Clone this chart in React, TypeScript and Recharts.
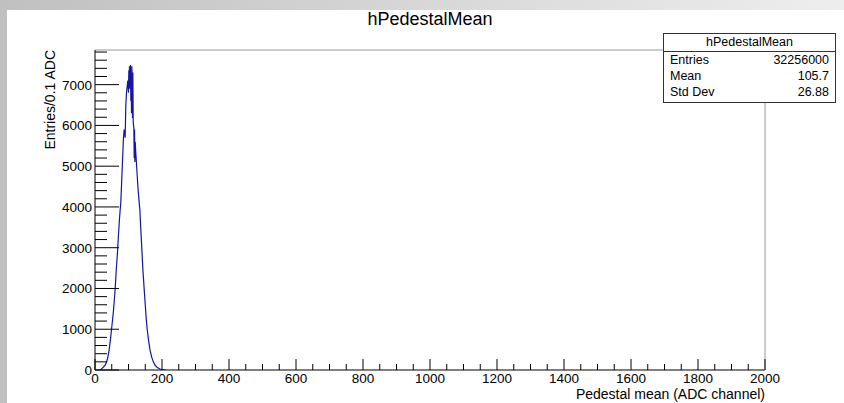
import React from "react";
import { LineChart, Line, XAxis, YAxis } from "recharts";

const adc = [
  14, 18, 22, 26, 30, 34, 38, 42, 46, 50, 54, 57, 60, 63, 67, 70, 73, 75, 77, 80,
  83, 85, 87, 89, 90, 92, 94, 96, 98, 100, 101, 102, 103, 104, 105, 106, 107, 108, 109, 110,
  111, 112, 113, 114, 115, 116, 117, 118, 119, 120, 122, 125, 128, 130, 132, 134, 137, 140, 143, 147,
  150, 153, 156, 160, 164, 169, 174, 180, 186, 194, 200, 206, 212,
];
const counts = [
  0, 20, 45, 80, 120, 180, 300, 480, 740, 1050, 1350, 1650, 1960, 2400, 2870, 3300, 3700, 3920, 4100, 4700,
  5300, 5690, 5900, 5800, 5700, 6500, 6800, 6950, 7100, 6800, 7350, 7100, 7450, 6900, 7200, 7480, 6600, 7000, 6300, 7450,
  6900, 6180, 7300, 6100, 6000, 5950, 5200, 5900, 5100, 5600, 5300, 4900, 4500, 4290, 4100, 3920, 3400, 2940, 2450, 1960,
  1600, 1250, 980, 720, 500, 320, 200, 110, 60, 25, 12, 5, 0,
];

const xTicks = [
  0, 50, 100, 150, 200, 250, 300, 350, 400, 450, 500, 550, 600, 650, 700, 750, 800, 850, 900, 950,
  1000, 1050, 1100, 1150, 1200, 1250, 1300, 1350, 1400, 1450, 1500, 1550, 1600, 1650, 1700, 1750, 1800, 1850, 1900, 1950, 2000,
];
const yTicks = [
  0, 200, 400, 600, 800, 1000, 1200, 1400, 1600, 1800, 2000, 2200, 2400, 2600, 2800, 3000, 3200, 3400, 3600, 3800,
  4000, 4200, 4400, 4600, 4800, 5000, 5200, 5400, 5600, 5800, 6000, 6200, 6400, 6600, 6800, 7000, 7200, 7400, 7600, 7800,
];

const title = "hPedestalMean";
const xTitle = "Pedestal mean (ADC channel)";
const yTitle = "Entries/0.1 ADC";
const statLabels = ["Entries", "Mean", "Std Dev"];
const statValues = ["32256000", "105.7", "26.88"];

const data = adc.map((a, i) => ({ x: a, v: counts[i] }));

const FONT = "'Liberation Sans', Arial, Helvetica, sans-serif";

const XTick = (props: any) => {
  const { x, y, payload } = props;
  const v = payload.value;
  const major = v % 200 === 0;
  return (
    <g>
      <line x1={x} x2={x} y1={y} y2={y - (major ? 11 : 6)} stroke="#000" strokeWidth={1} />
      {major && (
        <text x={x} y={y + 13} textAnchor="middle" fontSize={13.5} fontFamily={FONT} fill="#000">
          {v}
        </text>
      )}
    </g>
  );
};

const YTick = (props: any) => {
  const { x, y, payload } = props;
  const v = payload.value;
  const major = v % 1000 === 0;
  return (
    <g>
      <line x1={x} x2={x + (major ? 24 : 12)} y1={y} y2={y} stroke="#000" strokeWidth={1} />
      {major && (
        <text x={x - 3} y={y + 5} textAnchor="end" fontSize={13.5} fontFamily={FONT} fill="#000">
          {v}
        </text>
      )}
    </g>
  );
};

export default function App() {
  return (
    <div style={{ position: "absolute", left: 0, top: 0, width: 844, height: 403, background: "#fff", overflow: "hidden", fontFamily: FONT }}>
      <div style={{ position: "absolute", left: 0, top: 0, width: 844, height: 10, background: "linear-gradient(to right, #c0c0c0, #eeeeee)" }} />
      <div style={{ position: "absolute", left: 0, top: 0, width: 7, height: 403, background: "#c0c0c0" }} />
      <LineChart
        width={844}
        height={403}
        data={data}
        margin={{ top: 49, right: 78, bottom: 0, left: 0 }}
        style={{ position: "absolute", left: 0, top: 0 }}
      >
        <XAxis
          dataKey="x"
          type="number"
          domain={[0, 2000]}
          ticks={xTicks}
          interval={0}
          height={33}
          tickSize={0}
          tickMargin={0}
          tickLine={false}
          tick={<XTick />}
          axisLine={{ stroke: "#000" }}
          allowDataOverflow
        />
        <XAxis
          xAxisId="top"
          orientation="top"
          dataKey="x"
          type="number"
          domain={[0, 2000]}
          height={1}
          tick={false}
          tickLine={false}
          axisLine={{ stroke: "#999" }}
        />
        <YAxis
          type="number"
          domain={[0, 7850]}
          ticks={yTicks}
          interval={0}
          width={95}
          tickSize={0}
          tickMargin={0}
          tickLine={false}
          tick={<YTick />}
          axisLine={{ stroke: "#000" }}
          allowDataOverflow
        />
        <YAxis
          yAxisId="right"
          orientation="right"
          type="number"
          domain={[0, 7850]}
          width={1}
          tick={false}
          tickLine={false}
          axisLine={{ stroke: "#999" }}
        />
        <Line type="linear" dataKey="v" stroke="#1515a0" strokeWidth={1.2} dot={false} isAnimationActive={false} />
      </LineChart>
      <div style={{ position: "absolute", left: 0, width: 844, top: 9, textAlign: "center", paddingLeft: 16, boxSizing: "border-box", fontSize: 18, color: "#000" }}>
        {title}
      </div>
      <div style={{ position: "absolute", right: 79, top: 386, fontSize: 14, lineHeight: "16px", color: "#000", whiteSpace: "nowrap" }}>
        {xTitle}
      </div>
      <div
        style={{
          position: "absolute",
          left: 50,
          top: 50,
          fontSize: 14,
          color: "#000",
          whiteSpace: "nowrap",
          transform: "translate(-100%, 0) rotate(-90deg)",
          transformOrigin: "100% 0",
          lineHeight: "16px",
        }}
      >
        <span style={{ display: "inline-block", transform: "translate(0, -8px)" }}>{yTitle}</span>
      </div>
      <div
        style={{
          position: "absolute",
          left: 663,
          top: 33,
          width: 173,
          height: 70,
          border: "1px solid #333",
          boxSizing: "border-box",
          background: "#fff",
          fontSize: 12.5,
          color: "#000",
        }}
      >
        <div style={{ height: 17, lineHeight: "17px", textAlign: "center", borderBottom: "1px solid #333" }}>{title}</div>
        {statLabels.map((l, i) => (
          <div key={l} style={{ height: 16, lineHeight: "16px", display: "flex", justifyContent: "space-between", padding: "0 6px 0 6px" }}>
            <span>{l}</span>
            <span>{statValues[i]}</span>
          </div>
        ))}
      </div>
    </div>
  );
}
